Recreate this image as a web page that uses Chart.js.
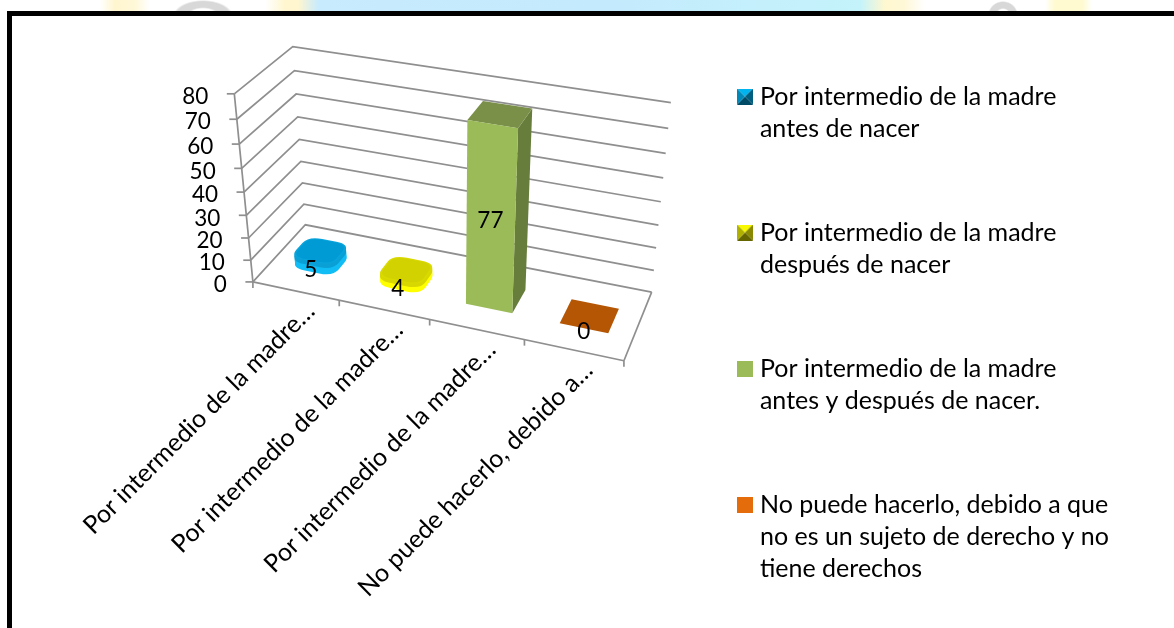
<!DOCTYPE html>
<html lang="es">
<head>
<meta charset="utf-8">
<title>Gráfico</title>
<style>
html,body{margin:0;padding:0;width:1174px;height:628px;overflow:hidden;background:#fff}
#strip{position:absolute;left:0;top:0;width:1174px;height:12px;
background:
 radial-gradient(ellipse 30px 16px at 203px 16px,#fff 0,#fff 45%,#d8d8d8 55%,#d8d8d8 90%,rgba(216,216,216,0) 100%),
 radial-gradient(ellipse 15px 14px at 1003px 15px,#fff 0,#fff 40%,#d8d8d8 50%,#d8d8d8 90%,rgba(216,216,216,0) 100%),
 linear-gradient(90deg,#fff 0,#fff 100px,#fff6cf 115px,#fff8d8 135px,#fff 150px,#fff 265px,#fff6cf 285px,#fff6cf 298px,#c8ebfd 318px,#c4eafd 600px,#c4f3fb 860px,#fff8cf 885px,#fff8d8 905px,#fff 925px,#fff 1045px,#fffacf 1055px,#fffacf 1082px,#fff 1092px,#fff 1174px);}
#frame{position:absolute;left:7px;top:11px;width:1200px;height:700px;border-left:5px solid #000;border-top:5px solid #000;background:#fff}
#c{position:absolute;left:0;top:0}
</style>
</head>
<body>
<div id="strip"></div>
<div id="frame"></div>
<canvas id="c" width="1174" height="628"></canvas>
<script src="https://cdn.jsdelivr.net/npm/chart.js@4"></script>
<script>
const categories = ["Por intermedio de la madre…","Por intermedio de la madre… ","Por intermedio de la madre…  ","No puede hacerlo, debido a…"];
const values = [5,4,77,0];
const legendLines = [
  ["Por intermedio de la madre","antes de nacer"],
  ["Por intermedio de la madre","después de nacer"],
  ["Por intermedio de la madre","antes y después de nacer."],
  ["No puede hacerlo, debido a que","no es un sujeto de derecho y no","tiene derechos"]
];
const legendColors = ["#00A6DE","#E0E000","#9BBB59","#E46C0A"];
const yMax = 80, yStep = 10;
const FONT = "Lato, Carlito, Calibri, sans-serif";
const FS = 25, NUM = 22.5;
/* camera calibration: wall corners of the 3D box (u,v,w -> page x,y) */
const cameraPoints = [
  [0,0,0,253.5,282],[1,0,0,624,361],[1,0,1,651.7,291.7],[0,0,1,305,225],
  [0,1,0,235,93.5],[0,1,1,292.3,46.7],[1,1,1,670.7,102.7],
  [.25,0,0,339,300],[.5,0,0,430,319.6],[.75,0,0,524,339.6],
  [0,.5,0,243,192.3],[0,.5,1,300,139.3],[1,.5,1,661,202]
];
const depthFront = .31, depthBack = .67;

function solve(A,b){
  const n=b.length;
  for(let i=0;i<n;i++){
    let m=i;for(let r=i+1;r<n;r++)if(Math.abs(A[r][i])>Math.abs(A[m][i]))m=r;
    [A[i],A[m]]=[A[m],A[i]];[b[i],b[m]]=[b[m],b[i]];
    for(let r=i+1;r<n;r++){const f=A[r][i]/A[i][i];for(let c=i;c<n;c++)A[r][c]-=f*A[i][c];b[r]-=f*b[i];}
  }
  const x=new Array(n).fill(0);
  for(let i=n-1;i>=0;i--){let s=b[i];for(let c=i+1;c<n;c++)s-=A[i][c]*x[c];x[i]=s/A[i][i];}
  return x;
}
const cam=(function(){
  const n=11,A=[...Array(n)].map(()=>new Array(n).fill(0)),B=new Array(n).fill(0);
  const add=(r,t)=>{for(let i=0;i<n;i++){B[i]+=r[i]*t;for(let j=0;j<n;j++)A[i][j]+=r[i]*r[j];}};
  cameraPoints.forEach(([u,v,w,x,y])=>{
    const X=x/1000,Y=y/1000;
    add([u,v,w,1,0,0,0,0,-X*u,-X*v,-X*w],X);
    add([0,0,0,0,u,v,w,1,-Y*u,-Y*v,-Y*w],Y);
  });
  return solve(A,B);
})();
function project(u,v,w){
  const d=cam[8]*u+cam[9]*v+cam[10]*w+1;
  return {x:1000*(cam[0]*u+cam[1]*v+cam[2]*w+cam[3])/d,y:1000*(cam[4]*u+cam[5]*v+cam[6]*w+cam[7])/d};
}
function line(ctx,a,b){ctx.beginPath();ctx.moveTo(a.x,a.y);ctx.lineTo(b.x,b.y);ctx.stroke();}
function poly(ctx,pts,fill){ctx.beginPath();pts.forEach((p,i)=>i?ctx.lineTo(p.x,p.y):ctx.moveTo(p.x,p.y));ctx.closePath();ctx.fillStyle=fill;ctx.fill();}
function rounded(ctx,pts,t,fill){
  const L=(a,b,k)=>({x:a.x+(b.x-a.x)*k,y:a.y+(b.y-a.y)*k});
  ctx.beginPath();
  pts.forEach((p,i)=>{
    const prev=pts[(i+3)%4],next=pts[(i+1)%4],s=L(p,prev,t),e=L(p,next,t);
    if(i)ctx.lineTo(s.x,s.y);else ctx.moveTo(s.x,s.y);
    ctx.quadraticCurveTo(p.x,p.y,e.x,e.y);
  });
  ctx.closePath();ctx.fillStyle=fill;ctx.fill();
}
function bevel(top,left,right,bottom){
  const c=document.createElement("canvas");c.width=16;c.height=16;const g=c.getContext("2d");
  const tri=(a,b,f)=>{g.beginPath();g.moveTo(8,8);g.lineTo(a[0],a[1]);g.lineTo(b[0],b[1]);g.closePath();g.fillStyle=f;g.fill();};
  tri([0,0],[16,0],top);tri([16,0],[16,16],right);tri([16,16],[0,16],bottom);tri([0,16],[0,0],left);
  return c;
}
function flat(col){const c=document.createElement("canvas");c.width=16;c.height=16;const g=c.getContext("2d");g.fillStyle=col;g.fillRect(0,0,16,16);return c;}
const swatches=[bevel("#00B4F0","#0088B8","#005F80","#004A66"),bevel("#F8F800","#B0B000","#8A8A00","#666600"),flat("#9BBB59"),flat("#E46C0A")];

const box3d={
  id:"box3d",
  beforeDatasetsDraw(chart){
    const ctx=chart.ctx,xs=chart.scales.x,ys=chart.scales.y,h=ys.bottom-ys.top;
    const vOf=val=>(ys.bottom-ys.getPixelForValue(val))/h;
    const uOf=px=>(px-xs.left)/(xs.right-xs.left);
    ctx.save();
    ctx.strokeStyle="#8f8f8f";ctx.lineWidth=1.7;
    ys.ticks.forEach(t=>{
      const v=vOf(t.value);
      const a=project(0,v,0),b=project(0,v,1),c=project(1,v,1);
      ctx.beginPath();ctx.moveTo(a.x,a.y);ctx.lineTo(b.x,b.y);ctx.lineTo(c.x,c.y);ctx.stroke();
      line(ctx,{x:a.x-7.5,y:a.y},a);
    });
    line(ctx,project(0,0,0),project(0,1,0));
    line(ctx,project(0,0,0),project(1,0,0));
    line(ctx,project(1,0,0),project(1,0,1));
    for(let i=0;i<=categories.length;i++){
      const p=project(i/categories.length,0,0);
      line(ctx,p,{x:p.x,y:p.y+6});
    }
    ctx.fillStyle="#000";ctx.font=NUM+"px "+FONT;ctx.textAlign="right";ctx.textBaseline="middle";
    ys.ticks.forEach(t=>{
      const a=project(0,vOf(t.value),0);
      ctx.fillText(String(t.value),a.x-26,a.y+3);
    });
    ctx.font=FS+"px "+FONT;
    categories.forEach((label,i)=>{
      const px=xs.getPixelForValue(i),a=project(uOf(px),0,0);
      ctx.save();ctx.translate(a.x+15,a.y+16);ctx.rotate(-Math.PI/4);
      ctx.textAlign="right";ctx.textBaseline="middle";
      ctx.fillText(label.trim(),0,0);
      ctx.restore();
    });
    ctx.restore();
  },
  beforeDatasetDraw(chart){
    const ctx=chart.ctx,xs=chart.scales.x,ys=chart.scales.y,h=ys.bottom-ys.top;
    const uOf=px=>(px-xs.left)/(xs.right-xs.left);
    const els=chart.getDatasetMeta(0).data;
    ctx.save();
    els.forEach((el,i)=>{
      const u0=uOf(el.x-el.width/2),u1=uOf(el.x+el.width/2),v=(ys.bottom-el.y)/h;
      const c=vv=>[project(u0,vv,depthFront),project(u1,vv,depthFront),project(u1,vv,depthBack),project(u0,vv,depthBack)];
      if(i<2){
        const lip=i===0?"#12BDF5":"#FFFF00",side=i===0?"#0AA0D6":"#D8D800",face=i===0?"#009BD4":"#D2D200",rim=i===0?"#08A4DC":"#DADA00";
        const k=.33;
        for(let s=0;s<=10;s++) rounded(ctx,c(v*s/10*.85),k,s<7?lip:side);
        rounded(ctx,c(v),k,rim);
        const A=c(v),m=(a,b,t)=>({x:a.x+(b.x-a.x)*t,y:a.y+(b.y-a.y)*t});
        const cx=(A[0].x+A[2].x)/2,cy=(A[0].y+A[2].y)/2;
        rounded(ctx,A.map(p=>m(p,{x:cx,y:cy},.08)),k,face);
      }else if(v>0){
        const B=c(0),T=c(v);
        poly(ctx,[B[1],B[2],T[2],T[1]],"#677D3B");
        poly(ctx,T,"#7A9049");
        poly(ctx,[B[0],B[1],T[1],T[0]],"#9BBB59");
      }else{
        poly(ctx,c(0),"#B45604");
      }
    });
    ctx.restore();
    return false;
  },
  afterDatasetsDraw(chart){
    const ctx=chart.ctx,xs=chart.scales.x,ys=chart.scales.y,h=ys.bottom-ys.top;
    const els=chart.getDatasetMeta(0).data;
    ctx.save();ctx.fillStyle="#000";ctx.font=NUM+"px "+FONT;ctx.textAlign="center";ctx.textBaseline="middle";
    els.forEach((el,i)=>{
      const u=(el.x-xs.left)/(xs.right-xs.left),v=(ys.bottom-el.y)/h;
      const p=project(u,v/2,depthFront*.9);
      ctx.fillText(String(values[i]),p.x+1,p.y+(i===2?-2:1.5));
    });
    ctx.restore();
  }
};

new Chart(document.getElementById("c"),{
  type:"bar",
  data:{labels:categories,datasets:[{data:values,backgroundColor:legendColors,barPercentage:1,categoryPercentage:.5}]},
  plugins:[box3d],
  options:{
    responsive:false,animation:false,
    layout:{padding:{left:200,top:12,right:55,bottom:-60}},
    scales:{
      x:{display:false},
      y:{display:false,min:0,max:yMax,ticks:{stepSize:yStep}}
    },
    plugins:{
      tooltip:{enabled:false},
      legend:{
        position:"right",align:"start",
        labels:{
          usePointStyle:true,boxWidth:5,boxHeight:5,padding:72,color:"#000",
          font:{family:FONT,size:FS,lineHeight:32/FS},
          generateLabels:()=>legendLines.map((t,i)=>({text:t,pointStyle:swatches[i],fillStyle:legendColors[i],strokeStyle:legendColors[i],lineWidth:0,index:i}))
        }
      }
    }
  }
});
</script>
</body>
</html>
